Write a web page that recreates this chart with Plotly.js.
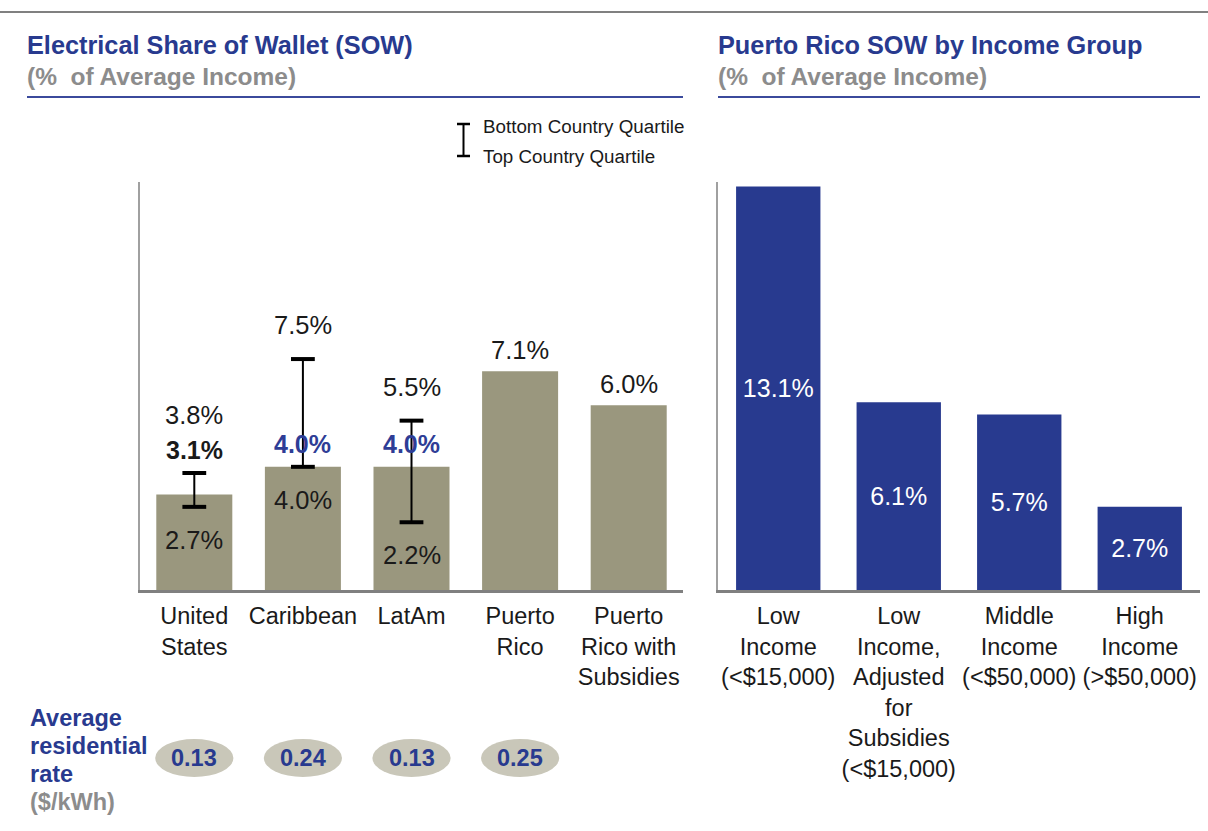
<!DOCTYPE html>
<html>
<head>
<meta charset="utf-8">
<script src="https://cdn.plot.ly/plotly-3.0.1.min.js"></script>
<style>html,body{margin:0;padding:0;background:#fff;}#chart{width:1208px;height:831px;}</style>
</head>
<body>
<div id="chart"></div>
<script>
// ---- data ----
const regions = ['United<br>States', 'Caribbean', 'LatAm', 'Puerto<br>Rico', 'Puerto<br>Rico with<br>Subsidies'];
const sowRegion = [3.1, 4.0, 4.0, 7.1, 6.0];
const quartileTop = [3.8, 7.5, 5.5, null, null];
const quartileBottom = [2.7, 4.0, 2.2, null, null];
const rateRegions = ['United<br>States', 'Caribbean', 'LatAm', 'Puerto<br>Rico'];
const residentialRate = [0.13, 0.24, 0.13, 0.25];
const incomeGroups = ['Low<br>Income<br>(&lt;$15,000)', 'Low<br>Income,<br>Adjusted<br>for<br>Subsidies<br>(&lt;$15,000)', 'Middle<br>Income<br>(&lt;$50,000)', 'High<br>Income<br>(&gt;$50,000)'];
const sowIncome = [13.1, 6.1, 5.7, 2.7];

// ---- style ----
const W = 1208, H = 831;
const px = v => v / W, py = v => (H - v) / H;
const FONT = 'Liberation Sans, Arial, sans-serif';
const BLUE = '#283a8f';
const TAUPE = '#9a977e';
const GRAY = '#8c8c8c';
const INK = '#1a1a1a';
const YMAX = 13.25;

const hasQ = quartileTop.map(v => v !== null);
const qx = regions.filter((r, i) => hasQ[i]);

const traces = [
  {
    type: 'bar', x: regions, y: sowRegion, xaxis: 'x', yaxis: 'y',
    marker: {color: TAUPE}, hoverinfo: 'none',
    error_y: {
      type: 'data', symmetric: false, visible: true,
      array: sowRegion.map((v, i) => hasQ[i] ? quartileTop[i] - v : 0),
      arrayminus: sowRegion.map((v, i) => hasQ[i] ? v - quartileBottom[i] : 0),
      color: '#000', thickness: 2, width: 0
    }
  },
  {
    type: 'scatter', mode: 'markers', x: qx, y: quartileTop.filter(v => v !== null),
    xaxis: 'x', yaxis: 'y', cliponaxis: false, hoverinfo: 'none',
    marker: {symbol: 'line-ew', size: 17, line: {width: 4, color: '#000'}}
  },
  {
    type: 'scatter', mode: 'markers', x: qx, y: quartileBottom.filter(v => v !== null),
    xaxis: 'x', yaxis: 'y', cliponaxis: false, hoverinfo: 'none',
    marker: {symbol: 'line-ew', size: 17, line: {width: 4, color: '#000'}}
  },
  {
    type: 'bar', x: incomeGroups, y: sowIncome, xaxis: 'x2', yaxis: 'y2',
    marker: {color: BLUE}, hoverinfo: 'none',
    text: sowIncome.map(v => v.toFixed(1) + '%'),
    textposition: 'inside', insidetextanchor: 'middle', textangle: 0,
    constraintext: 'none',
    textfont: {family: FONT, size: 25, color: '#ffffff'}
  }
];

const annotations = [];
const labelFont = {family: FONT, size: 25.5, color: INK};
regions.forEach((r, i) => {
  const v = sowRegion[i];
  if (hasQ[i]) {
    const stacked = quartileTop[i] - v < 1;
    const boldBase = stacked ? quartileTop[i] : v;
    annotations.push({xref: 'x', yref: 'y', x: r, y: boldBase, yshift: 23, yanchor: 'middle',
      text: '<b>' + v.toFixed(1) + '%</b>', showarrow: false,
      font: {family: FONT, size: 25, color: i === 0 ? INK : '#2e3d96'}});
    annotations.push({xref: 'x', yref: 'y', x: r, y: quartileTop[i], yshift: stacked ? 58 : 34, yanchor: 'middle',
      text: quartileTop[i].toFixed(1) + '%', showarrow: false, font: labelFont});
    annotations.push({xref: 'x', yref: 'y', x: r, y: quartileBottom[i], yshift: -33, yanchor: 'middle',
      text: quartileBottom[i].toFixed(1) + '%', showarrow: false, font: labelFont});
  } else {
    annotations.push({xref: 'x', yref: 'y', x: r, y: v, yshift: 21, yanchor: 'middle',
      text: v.toFixed(1) + '%', showarrow: false, font: labelFont});
  }
});

// rate ellipses + text
const shapes = [];
rateRegions.forEach((r, i) => {
  shapes.push({type: 'circle', xref: 'x', yref: 'paper', x0: i - 0.36, x1: i + 0.36,
    y0: py(777), y1: py(739), fillcolor: '#c9c7b9', line: {width: 0}});
  annotations.push({xref: 'x', yref: 'paper', x: r, y: py(758), yanchor: 'middle',
    text: '<b>' + residentialRate[i].toFixed(2) + '</b>', showarrow: false,
    font: {family: FONT, size: 23.5, color: BLUE}});
});

// row label (one annotation per line to keep the original line spacing)
[['Average', 718, BLUE], ['residential', 746, BLUE], ['rate', 774, BLUE], ['($/kWh)', 802, GRAY]].forEach(([t, y, c]) => {
  annotations.push({xref: 'paper', yref: 'paper', x: px(28), y: py(y), xanchor: 'left', yanchor: 'middle',
    text: '<b>' + t + '</b>', showarrow: false, font: {family: FONT, size: 23.5, color: c}});
});

// titles
[[27, 'Electrical Share of Wallet (SOW)'], [718, 'Puerto Rico SOW by Income Group']].forEach(([x, t]) => {
  annotations.push({xref: 'paper', yref: 'paper', x: px(x - 2), y: py(45), xanchor: 'left', yanchor: 'middle',
    text: '<b>' + t + '</b>', showarrow: false, font: {family: FONT, size: 25.3, color: BLUE}});
  annotations.push({xref: 'paper', yref: 'paper', x: px(x - 2), y: py(76), xanchor: 'left', yanchor: 'middle',
    text: '<b>(%  of Average Income)</b>', showarrow: false, font: {family: FONT, size: 24.5, color: GRAY}});
});

// legend text
annotations.push({xref: 'paper', yref: 'paper', x: px(481), y: py(126), xanchor: 'left', yanchor: 'middle',
  text: 'Bottom Country Quartile', showarrow: false, font: {family: FONT, size: 18.8, color: INK}});
annotations.push({xref: 'paper', yref: 'paper', x: px(481), y: py(156), xanchor: 'left', yanchor: 'middle',
  text: 'Top Country Quartile', showarrow: false, font: {family: FONT, size: 18.8, color: INK}});

// decorative lines
shapes.push({type: 'line', xref: 'paper', yref: 'paper', x0: 0, x1: 1, y0: py(12), y1: py(12), line: {color: '#808080', width: 2}});
shapes.push({type: 'line', xref: 'paper', yref: 'paper', x0: px(27), x1: px(683), y0: py(97), y1: py(97), line: {color: '#3b4a9c', width: 2}});
shapes.push({type: 'line', xref: 'paper', yref: 'paper', x0: px(718), x1: px(1200), y0: py(97), y1: py(97), line: {color: '#3b4a9c', width: 2}});
// legend glyph
shapes.push({type: 'line', xref: 'paper', yref: 'paper', x0: px(463.5), x1: px(463.5), y0: py(124), y1: py(156), line: {color: '#000', width: 2}});
shapes.push({type: 'line', xref: 'paper', yref: 'paper', x0: px(457), x1: px(470), y0: py(124), y1: py(124), line: {color: '#000', width: 2.5}});
shapes.push({type: 'line', xref: 'paper', yref: 'paper', x0: px(457), x1: px(470), y0: py(156), y1: py(156), line: {color: '#000', width: 2.5}});

const xCommon = {type: 'category', showline: true, linecolor: '#808080', linewidth: 3, ticks: '',
  showgrid: false, zeroline: false, fixedrange: true, ticklabelstandoff: 3,
  tickfont: {family: FONT, size: 23.5, color: INK}};
const yCommon = {range: [0, YMAX], showline: true, linecolor: '#a0a0a0', linewidth: 2,
  showticklabels: false, ticks: '', showgrid: false, zeroline: false, fixedrange: true,
  domain: [py(590), py(182)]};

const layout = {
  width: W, height: H, margin: {l: 0, r: 0, t: 0, b: 0, pad: 0},
  paper_bgcolor: '#ffffff', plot_bgcolor: 'rgba(0,0,0,0)',
  font: {family: FONT, color: INK},
  showlegend: false, bargap: 0.3,
  xaxis: Object.assign({}, xCommon, {domain: [px(140), px(683)], anchor: 'y'}),
  yaxis: Object.assign({}, yCommon, {anchor: 'x'}),
  xaxis2: Object.assign({}, xCommon, {domain: [px(718), px(1200)], anchor: 'y2'}),
  yaxis2: Object.assign({}, yCommon, {anchor: 'x2'}),
  annotations: annotations, shapes: shapes
};

Plotly.newPlot('chart', traces, layout, {displayModeBar: false, staticPlot: true});
</script>
</body>
</html>
